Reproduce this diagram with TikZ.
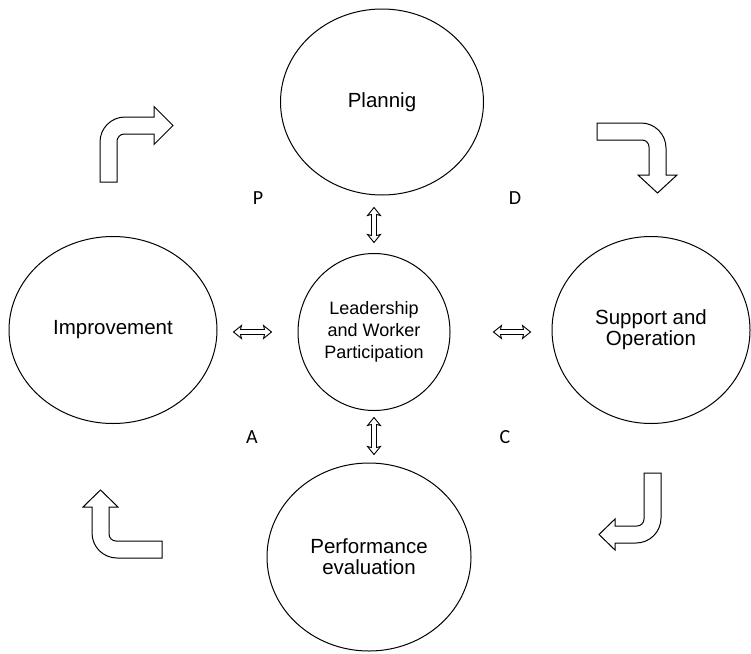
\documentclass[tikz,border=0pt]{standalone}
\usepackage{fontspec}
\setmainfont{Liberation Sans}
\newfontfamily\letterfont{Carlito}
\usetikzlibrary{shapes.geometric,calc}
\begin{document}
\begin{tikzpicture}[x=1pt,y=-1pt,
  phase/.style={draw, ellipse, line width=1pt, inner sep=0pt, align=center,
    font=\fontsize{20.5}{21}\selectfont},
  hub/.style={phase, font=\fontsize{18}{22}\selectfont},
  % hollow two-headed block arrow drawn along a straight connector
  twoway/.style={draw, line width=0.9pt, line join=miter, to path={
    (\tikztostart)
    -- ($(\tikztostart)!8pt!(\tikztotarget)!6.5pt!90:(\tikztotarget)$)
    -- ($(\tikztostart)!7pt!(\tikztotarget)!2.5pt!90:(\tikztotarget)$)
    -- ($(\tikztotarget)!7pt!(\tikztostart)!2.5pt!-90:(\tikztostart)$)
    -- ($(\tikztotarget)!8pt!(\tikztostart)!6.5pt!-90:(\tikztostart)$)
    -- (\tikztotarget)
    -- ($(\tikztotarget)!8pt!(\tikztostart)!6.5pt!90:(\tikztostart)$)
    -- ($(\tikztotarget)!7pt!(\tikztostart)!2.5pt!90:(\tikztostart)$)
    -- ($(\tikztostart)!7pt!(\tikztotarget)!2.5pt!-90:(\tikztotarget)$)
    -- ($(\tikztostart)!8pt!(\tikztotarget)!6.5pt!-90:(\tikztotarget)$)
    -- cycle}},
  turn/.style={draw, line width=1pt, fill=white, line join=miter},
  tag/.style={font=\letterfont\fontsize{20}{20}\selectfont}]
\useasboundingbox (0,0) rectangle (751,653);

% the four PDCA phases and the hub
\node[phase, minimum width=203pt, minimum height=186pt] (plan)    at (382,102) {Plannig};
\node[phase, minimum width=208pt, minimum height=187pt] (improve) at (113,330) {Improvement};
\node[phase, minimum width=198pt, minimum height=187pt] (support) at (651,330) {Support and\\Operation};
\node[phase, minimum width=204pt, minimum height=188pt] (perf)    at (369,557) {Performance\\evaluation};
\node[hub,   minimum width=152pt, minimum height=157pt] (lead)    at (374,332) {Leadership\\and Worker\\Participation};

% end points of the two-way links between the hub and each phase
\coordinate (nA) at ($(lead.north)+(0,-10.5)$);
\coordinate (nB) at ($(lead.north |- plan.south)+(0,12)$);
\coordinate (sA) at ($(lead.south)+(0,6.5)$);
\coordinate (sB) at ($(lead.south |- perf.north)+(0,-8)$);
\coordinate (wA) at ($(lead.west)+(-26,0)$);
\coordinate (wB) at ($(improve.east |- lead.west)+(16,0)$);
\coordinate (eA) at ($(lead.east)+(43,0)$);
\coordinate (eB) at ($(support.west |- lead.east)+(-21,0)$);

\draw[twoway] (nA) to (nB);
\draw[twoway] (sA) to (sB);
\draw[twoway] (wA) to (wB);
\draw[twoway] (eA) to (eB);

% cycle letters
\node[tag] (p) at (258,198) {P};
\node[tag] (d) at (515,198) {D};
\node[tag] (a) at (252,437) {A};
\node[tag] (c) at (505,437) {C};

% bent block arrows showing the direction of the cycle
\draw[turn] (100,182) -- (100,142) .. controls (100,128.2) and (111.2,117) .. (125,117)
  -- (154,117) -- (154,106.5) -- (173,125.5) -- (154,144.5) -- (154,134) -- (124,134)
  .. controls (120.1,134) and (117,137.9) .. (117,141) -- (117,182) -- cycle;
\draw[turn] (597,123) -- (641,123) .. controls (654.8,123) and (666,134.2) .. (666,148)
  -- (666,175) -- (677,175) -- (657.5,193) -- (638,175) -- (649,175) -- (649,147)
  .. controls (649,143.1) and (645.9,140) .. (642,140) -- (597,140) -- cycle;
\draw[turn] (644,473) -- (661,473) -- (661,518) .. controls (661,531.8) and (649.8,543) .. (636,543)
  -- (615,543) -- (615,550) -- (599,534.5) -- (615,519) -- (615,526) -- (637,526)
  .. controls (640.9,526) and (644,522.9) .. (644,519) -- cycle;
\draw[turn] (162,541) -- (162,558) -- (117,558) .. controls (103.2,558) and (92,546.8) .. (92,533)
  -- (92,507) -- (83,507) -- (100.5,490) -- (118,507) -- (109,507) -- (109,534)
  .. controls (109,537.9) and (112.1,541) .. (116,541) -- cycle;
\end{tikzpicture}
\end{document}
